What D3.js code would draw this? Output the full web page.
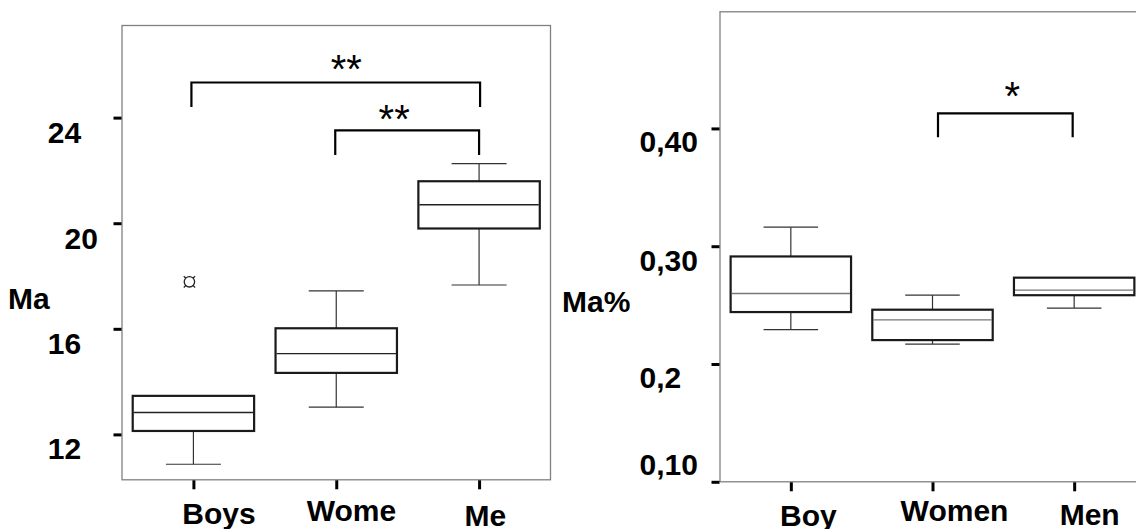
<!DOCTYPE html>
<html>
<head>
<meta charset="utf-8">
<script src="https://cdn.jsdelivr.net/npm/d3@7"></script>
<style>
  html, body { margin: 0; padding: 0; background: #fff; overflow: hidden; }
  svg { display: block; }
  text { font-family: Arial, "Liberation Sans", sans-serif; }
</style>
</head>
<body>
<div class="container"></div>
<script>
// left panel: Ma
const maGroups = ["Boys", "Wome", "Me"]
const maLow = [10.87, 13.03, 17.66]
const maQ1 = [12.13, 14.33, 19.80]
const maMed = [12.83, 15.06, 20.70]
const maQ3 = [13.46, 16.02, 21.59]
const maHigh = [13.46, 17.44, 22.26]
const maOutliers = [{group: "Boys", value: 17.78}]
const maTicks = [12, 16, 20, 24]
const maTickLabels = ["12", "16", "20", "24"]
const maSig = [{from: "Boys", to: "Me", top: 25.33, foot: 24.40, stars: "**", starAt: 26.16},
               {from: "Wome", to: "Me", top: 23.52, foot: 22.58, stars: "**", starAt: 24.24}]

// right panel: Ma%
const pctGroups = ["Boy", "Women", "Men"]
const pctLow = [0.2292, 0.2169, 0.2475]
const pctQ1 = [0.2441, 0.2203, 0.2584]
const pctMed = [0.2598, 0.2375, 0.2627]
const pctQ3 = [0.2913, 0.2461, 0.2733]
const pctHigh = [0.3162, 0.2584, 0.2733]
const pctTicks = [0.10, 0.2, 0.30, 0.40]
const pctTickLabels = ["0,10", "0,2", "0,30", "0,40"]
const pctSig = [{from: "Women", to: "Men", top: 0.4128, foot: 0.3924, stars: "*", starAt: 0.4345}]

const WIDTH = 1136, HEIGHT = 529

const svg = d3.select(".container")
              .append("svg")
              .attr("width", WIDTH)
              .attr("height", HEIGHT)

const panel = (cfg) => {
    const x = d3.scalePoint()
                .domain(cfg.groups)
                .range([cfg.left, cfg.right])
                .padding(0.5)
    const y = d3.scaleLinear()
                .domain(cfg.domain)
                .range([cfg.bottom, cfg.top])
    const step = x.step()
    const boxW = step * 0.85
    const capW = step * 0.385

    const g = svg.append("g")

    // frame
    g.append("rect")
     .attr("x", cfg.left)
     .attr("y", cfg.top)
     .attr("width", cfg.right - cfg.left)
     .attr("height", cfg.bottom - cfg.top)
     .attr("fill", "none")
     .attr("stroke", "#808080")
     .attr("stroke-width", 1.3)

    // y axis
    const yAxis = g.append("g")
                   .attr("transform", `translate(${cfg.left - 0.5},0)`)
                   .call(d3.axisLeft(y).tickValues(cfg.ticks).tickSize(8)
                           .tickFormat((d, i) => cfg.tickLabels[i]))
    yAxis.select(".domain").remove()
    yAxis.selectAll(".tick line").attr("stroke", "#000").attr("stroke-width", 3)
    yAxis.selectAll(".tick text")
         .attr("text-anchor", "start")
         .attr("x", (d, i) => cfg.labelLeft[i] - cfg.left)
         .attr("y", (d, i) => cfg.labelDy[i])
         .attr("dy", null)
         .attr("fill", "#000")
         .style("font-size", "30px")
         .style("font-weight", "bold")

    // x axis
    const xAxis = g.append("g")
                   .attr("transform", `translate(0,${cfg.bottom + 0.5})`)
                   .call(d3.axisBottom(x).tickSize(9))
    xAxis.select(".domain").remove()
    xAxis.selectAll(".tick line").attr("stroke", "#000").attr("stroke-width", 3)
    xAxis.selectAll(".tick text")
         .attr("x", (d, i) => cfg.xLabelDx[i])
         .attr("y", (d, i) => cfg.xLabelBase[i] - cfg.bottom)
         .attr("dy", null)
         .attr("fill", "#000")
         .style("font-size", "30px")
         .style("font-weight", "bold")

    g.append("text")
     .text(cfg.title)
     .attr("x", cfg.titleX)
     .attr("y", cfg.titleY)
     .style("font-size", "30px")
     .style("font-weight", "bold")

    // whiskers
    const boxes = g.selectAll(".box")
                   .data(cfg.groups)
                   .join("g")
                   .attr("class", "box")
    boxes.append("line")
         .attr("x1", (d) => x(d)).attr("x2", (d) => x(d))
         .attr("y1", (d, i) => y(cfg.high[i])).attr("y2", (d, i) => y(cfg.q3[i]))
         .attr("stroke", "#333").attr("stroke-width", 1.2)
    boxes.append("line")
         .attr("x1", (d) => x(d)).attr("x2", (d) => x(d))
         .attr("y1", (d, i) => y(cfg.q1[i])).attr("y2", (d, i) => y(cfg.low[i]))
         .attr("stroke", "#333").attr("stroke-width", 1.2)
    boxes.filter((d, i) => cfg.high[i] > cfg.q3[i])
         .append("line")
         .attr("x1", (d) => x(d) - capW / 2).attr("x2", (d) => x(d) + capW / 2)
         .attr("y1", (d) => y(cfg.high[cfg.groups.indexOf(d)]))
         .attr("y2", (d) => y(cfg.high[cfg.groups.indexOf(d)]))
         .attr("stroke", "#333").attr("stroke-width", 1.2)
    boxes.append("line")
         .attr("x1", (d) => x(d) - capW / 2).attr("x2", (d) => x(d) + capW / 2)
         .attr("y1", (d, i) => y(cfg.low[i])).attr("y2", (d, i) => y(cfg.low[i]))
         .attr("stroke", "#333").attr("stroke-width", 1.2)
    boxes.append("rect")
         .attr("x", (d) => x(d) - boxW / 2)
         .attr("width", boxW)
         .attr("y", (d, i) => y(cfg.q3[i]))
         .attr("height", (d, i) => y(cfg.q1[i]) - y(cfg.q3[i]))
         .attr("fill", "#fff")
         .attr("stroke", "#1a1a1a")
         .attr("stroke-width", 2.2)
    boxes.append("line")
         .attr("x1", (d) => x(d) - boxW / 2 + 1).attr("x2", (d) => x(d) + boxW / 2 - 1)
         .attr("y1", (d, i) => y(cfg.med[i])).attr("y2", (d, i) => y(cfg.med[i]))
         .attr("stroke", cfg.medColor).attr("stroke-width", 1.4)

    // outliers
    const out = g.selectAll(".out")
                 .data(cfg.outliers)
                 .join("g")
                 .attr("class", "out")
                 .attr("transform", (d) => `translate(${x(d.group) - 4},${y(d.value)})`)
    out.append("circle").attr("r", 5.2).attr("fill", "none")
       .attr("stroke", "#222").attr("stroke-width", 1.3)
    out.selectAll("line")
       .data([45, 135, 225, 315])
       .join("line")
       .attr("x1", (a) => 5 * Math.cos(a * Math.PI / 180))
       .attr("y1", (a) => 5 * Math.sin(a * Math.PI / 180))
       .attr("x2", (a) => 8 * Math.cos(a * Math.PI / 180))
       .attr("y2", (a) => 8 * Math.sin(a * Math.PI / 180))
       .attr("stroke", "#222").attr("stroke-width", 1.3)

    // significance brackets
    cfg.sig.forEach((s, i) => {
        const x1 = x(s.from) + cfg.sigDx[i][0]
        const x2 = x(s.to) + cfg.sigDx[i][1]
        g.append("path")
         .attr("d", `M${x1},${y(s.foot)}V${y(s.top)}H${x2}V${y(s.foot)}`)
         .attr("fill", "none")
         .attr("stroke", "#000")
         .attr("stroke-width", 2.2)
        g.append("text")
         .text(s.stars)
         .attr("x", (x1 + x2) / 2 + cfg.starDx[i])
         .attr("y", y(s.starAt) + 22)
         .attr("text-anchor", "middle")
         .style("font-size", "40px")
    })
}

panel({groups: maGroups, low: maLow, q1: maQ1, med: maMed, q3: maQ3, high: maHigh,
       outliers: maOutliers, ticks: maTicks, tickLabels: maTickLabels, sig: maSig,
       domain: [10.28, 27.49], left: 122, right: 550.5, top: 25.5, bottom: 479.8,
       labelLeft: [48.3, 48.3, 65, 48.3], labelDy: [24.5, 25, 25, 24.8],
       xLabelDx: [25, 14.7, 5.7], xLabelBase: [523.3, 520.7, 526],
       title: "Ma", titleX: 8, titleY: 309.3, medColor: "#222",
       sigDx: [[-2, 1], [-1, 0]], starDx: [10.6, -13]})

panel({groups: pctGroups, low: pctLow, q1: pctQ1, med: pctMed, q3: pctQ3, high: pctHigh,
       outliers: [], ticks: pctTicks, tickLabels: pctTickLabels, sig: pctSig,
       domain: [0.1, 0.499], left: 720, right: 1145, top: 11.8, bottom: 481.8,
       labelLeft: [640, 640, 640, 640], labelDy: [-7, 23.5, 24.5, 23.5],
       xLabelDx: [17, 21.5, 15], xLabelBase: [526, 520.5, 524.5],
       title: "Ma%", titleX: 562, titleY: 311.7, medColor: "#777",
       sigDx: [[5.5, -1.5]], starDx: [7]})
</script>
</body>
</html>
